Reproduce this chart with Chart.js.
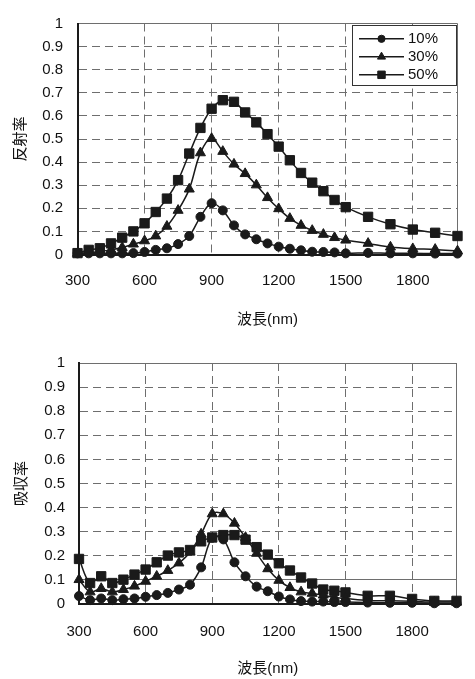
<!DOCTYPE html>
<html>
<head>
<meta charset="utf-8">
<script src="https://cdn.jsdelivr.net/npm/chart.js@4.4.0/dist/chart.umd.min.js"></script>
<style>
html,body{margin:0;padding:0;background:#fff;width:475px;height:679px;overflow:hidden;}
canvas{position:absolute;left:0;}
#c1{top:0;}
#c2{top:340px;}
</style>
</head>
<body>
<canvas id="c1" width="475" height="340"></canvas>
<canvas id="c2" width="475" height="339"></canvas>
<script>
// ---- data ----
const wavelengths = [300,350,400,450,500,550,600,650,700,750,800,850,900,950,1000,1050,1100,1150,1200,1250,1300,1350,1400,1450,1500,1600,1700,1800,1900,2000];
const seriesLabels = ['10%','30%','50%'];
const pointStyles = ['circle','triangle','rect'];
const pointSizes = [4.5,5.8,6.6];

const reflect10 = [0.005,0.005,0.005,0.005,0.005,0.006,0.011,0.02,0.027,0.045,0.08,0.163,0.222,0.191,0.126,0.087,0.066,0.048,0.034,0.025,0.018,0.012,0.011,0.009,0.005,0.007,0.005,0.005,0.004,0.004];
const reflect30 = [0.005,0.008,0.013,0.02,0.03,0.045,0.059,0.08,0.122,0.191,0.283,0.44,0.502,0.446,0.391,0.35,0.301,0.246,0.198,0.156,0.126,0.104,0.087,0.073,0.062,0.048,0.032,0.025,0.022,0.015];
const reflect50 = [0.006,0.02,0.027,0.048,0.073,0.10,0.135,0.184,0.242,0.322,0.437,0.548,0.631,0.668,0.661,0.615,0.572,0.521,0.467,0.408,0.353,0.311,0.274,0.236,0.205,0.163,0.131,0.108,0.094,0.080];

const absorb10 = [0.033,0.016,0.023,0.016,0.02,0.023,0.03,0.037,0.046,0.06,0.08,0.152,0.275,0.268,0.173,0.115,0.072,0.053,0.031,0.019,0.012,0.01,0.01,0.008,0.008,0.006,0.005,0.005,0.003,0.003];
const absorb30 = [0.101,0.05,0.064,0.05,0.06,0.074,0.094,0.115,0.139,0.17,0.215,0.29,0.374,0.374,0.335,0.276,0.21,0.146,0.098,0.068,0.05,0.044,0.037,0.027,0.023,0.015,0.013,0.011,0.008,0.008];
const absorb50 = [0.187,0.087,0.115,0.087,0.101,0.122,0.143,0.173,0.201,0.214,0.224,0.26,0.276,0.286,0.286,0.267,0.236,0.205,0.169,0.139,0.11,0.085,0.06,0.055,0.048,0.034,0.034,0.021,0.013,0.013];

const xTickValues = [300,600,900,1200,1500,1800];
const xTickLabels = ['300','600','900','1200','1500','1800'];
const xMin = 300, xMax = 2000;
const yTickValues = [0,0.1,0.2,0.3,0.4,0.5,0.6,0.7,0.8,0.9,1];
const yTickLabels = ['0','0.1','0.2','0.3','0.4','0.5','0.6','0.7','0.8','0.9','1'];
const xTitle = '波長(nm)';
const yTitleTop = '反射率';
const yTitleBottom = '吸収率';

// ---- styling ----
const FONT = "'Liberation Sans', Arial, 'Noto Sans CJK JP', sans-serif";
const INK = '#1a1a1a';
const GRID = '#6e6e6e';

const boxLegend = {
  id: 'boxLegend',
  afterDraw(chart, args, opts) {
    if (!opts.display) return;
    const {ctx, chartArea} = chart;
    const w = 104, h = 60;
    const x0 = Math.round(chartArea.right - w - 1.5) + 0.5;
    const y0 = Math.round(chartArea.top + 1.5) + 0.5;
    ctx.save();
    ctx.fillStyle = '#fff';
    ctx.fillRect(x0, y0, w, h);
    ctx.strokeStyle = '#333';
    ctx.lineWidth = 1;
    ctx.strokeRect(x0, y0, w, h);
    chart.data.datasets.forEach((ds, i) => {
      const y = y0 + 13.3 + i * 18;
      ctx.strokeStyle = INK;
      ctx.lineWidth = 1.5;
      ctx.beginPath();
      ctx.moveTo(x0 + 6.5, y);
      ctx.lineTo(x0 + 51.5, y);
      ctx.stroke();
      ctx.fillStyle = INK;
      ctx.lineWidth = 1;
      Chart.helpers.drawPoint(ctx, {pointStyle: ds.pointStyle, radius: ds.pointRadius * 0.8, rotation: 0, borderWidth: 1}, x0 + 29, y);
      ctx.fillStyle = '#111';
      ctx.font = '15px ' + FONT;
      ctx.textBaseline = 'middle';
      ctx.textAlign = 'left';
      ctx.fillText(ds.label, x0 + 55.5, y + 0.5);
    });
    ctx.restore();
  }
};

function makeChart(id, series, yTitle, g) {
  const datasets = series.map((vals, i) => ({
    label: seriesLabels[i],
    data: wavelengths.map((w, k) => ({x: w, y: vals[k]})),
    borderColor: INK,
    backgroundColor: INK,
    borderWidth: 1.5,
    pointStyle: pointStyles[i],
    pointRadius: pointSizes[i],
    pointBorderWidth: 1,
    pointBackgroundColor: INK,
    pointBorderColor: INK,
    tension: 0.35,
    clip: false
  }));
  return new Chart(document.getElementById(id), {
    type: 'line',
    data: {datasets},
    plugins: [boxLegend],
    options: {
      responsive: false,
      animation: false,
      devicePixelRatio: 1,
      layout: {padding: {left: 0, right: g.padRight, top: g.padTop, bottom: 0}},
      plugins: {
        legend: {display: false},
        tooltip: {enabled: false},
        boxLegend: {display: g.legend}
      },
      scales: {
        x: {
          type: 'linear',
          min: xMin, max: xMax,
          afterBuildTicks: (s) => { s.ticks = xTickValues.concat([xMax]).map(v => ({value: v})); },
          afterFit: (s) => { s.height = g.xHeight; },
          ticks: {
            autoSkip: false, maxRotation: 0, minRotation: 0,
            padding: g.xTickPad,
            color: '#111',
            font: {family: FONT, size: 15},
            callback: (v) => { const k = xTickValues.indexOf(v); return k >= 0 ? xTickLabels[k] : ''; }
          },
          grid: {
            drawTicks: false,
            color: GRID,
            lineWidth: 1
          },
          border: {
            display: true, color: INK, width: 2,
            dash: (c) => (c.type !== 'tick' || c.tick.value === xMax) ? [] : [8, 5]
          },
          title: {
            display: true, text: xTitle, color: '#111',
            font: {family: FONT, size: 15},
            padding: {top: 0, bottom: g.xTitlePad}
          }
        },
        y: {
          type: 'linear',
          min: 0, max: 1,
          afterBuildTicks: (s) => { s.ticks = yTickValues.map(v => ({value: v})); },
          afterFit: (s) => { s.width = g.yWidth; },
          ticks: {
            padding: g.yTickPad,
            color: '#111',
            font: {family: FONT, size: 15},
            callback: (v, idx) => yTickLabels[idx]
          },
          grid: {
            drawTicks: false,
            color: GRID,
            lineWidth: 1
          },
          border: {
            display: true, color: INK, width: 2,
            dash: (c) => (c.type !== 'tick' || g.solidY.includes(c.tick.value)) ? [] : [8, 5]
          },
          title: {
            display: true, text: yTitle, color: '#111',
            font: {family: FONT, size: 15},
            padding: {top: g.yTitlePad, bottom: 0}
          }
        }
      }
    }
  });
}

makeChart('c1', [reflect10, reflect30, reflect50], yTitleTop, {
  padRight: 8, padTop: 13.5, xHeight: 85.5, yWidth: 77.5,
  xTickPad: 17.5, yTickPad: 14.5, xTitlePad: 11, yTitlePad: 12,
  legend: true, solidY: [1]
});
makeChart('c2', [absorb10, absorb30, absorb50], yTitleBottom, {
  padRight: 4, padTop: 20, xHeight: 75, yWidth: 79,
  xTickPad: 18.5, yTickPad: 14, xTitlePad: 1, yTitlePad: 13,
  legend: false, solidY: [0.1, 1]
});
</script>
</body>
</html>
